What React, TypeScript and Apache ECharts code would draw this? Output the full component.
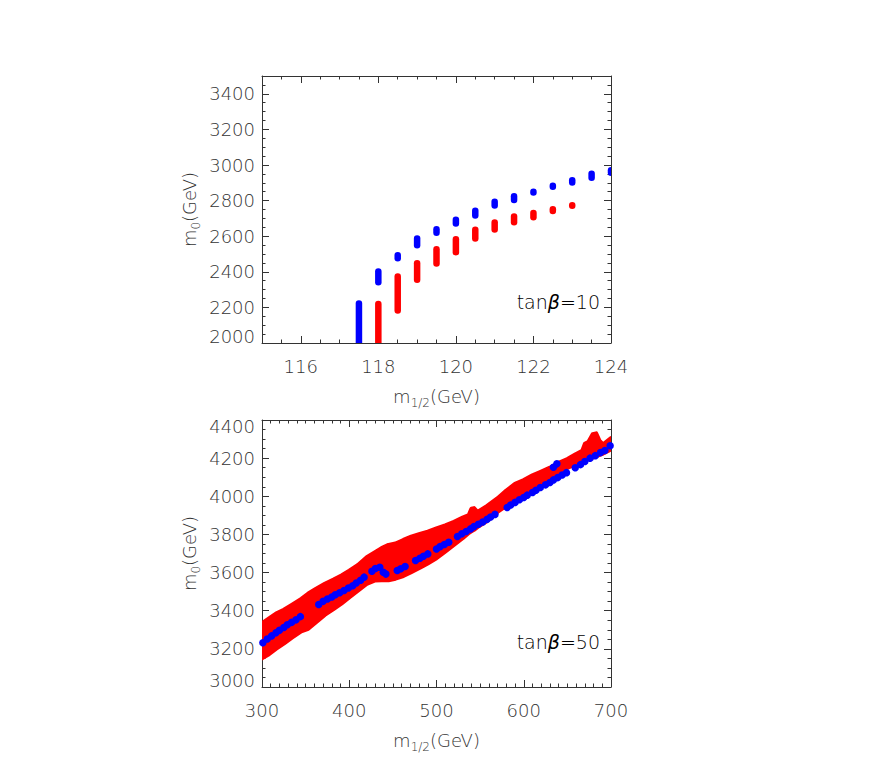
import React, { useEffect, useRef } from 'react';
import * as echarts from 'echarts';

// ---------- tick labels ----------
const topXTicks = [116, 118, 120, 122, 124];
const topYTicks = [2000, 2200, 2400, 2600, 2800, 3000, 3200, 3400];
const botXTicks = [300, 400, 500, 600, 700];
const botYTicks = [3000, 3200, 3400, 3600, 3800, 4000, 4200, 4400];

// ---------- top panel (tan beta = 10): vertical stacks of points, m1/2 -> [m0 low, m0 high] ----------
const topBlueM12 = [117.5, 118, 118.5, 119, 119.5, 120, 120.5, 121, 121.5, 122, 122.5, 123, 123.5, 124];
const topBlueLow = [1990, 2341, 2476, 2549, 2619, 2671, 2716, 2772, 2803, 2846, 2878, 2901, 2929, 2957];
const topBlueHigh = [2222, 2401, 2493, 2587, 2639, 2692, 2743, 2793, 2824, 2846, 2884, 2914, 2951, 2970];

const topRedM12 = [118, 118.5, 119, 119.5, 120, 120.5, 121, 121.5, 122, 122.5, 123];
const topRedLow = [1990, 2183, 2356, 2446, 2510, 2587, 2638, 2679, 2707, 2741, 2771];
const topRedHigh = [2219, 2373, 2448, 2527, 2583, 2636, 2677, 2711, 2730, 2752, 2771];

// ---------- bottom panel (tan beta = 50) ----------
// red band of points: m1/2 -> lower / upper edge of m0
const bandM12 = [300, 308, 316, 325, 334, 345, 353, 362, 372, 382, 391, 400, 410, 420, 429, 437, 445, 453, 462, 471, 481, 490, 500, 510, 520, 530, 537, 540, 543, 547, 558, 570, 580, 590, 600, 610, 620, 630, 640, 650, 660, 667, 670, 674, 679, 683, 687, 691, 700];
const bandLow = [3150, 3172, 3200, 3228, 3258, 3292, 3305, 3340, 3378, 3408, 3437, 3470, 3505, 3540, 3558, 3560, 3560, 3568, 3582, 3602, 3625, 3648, 3675, 3710, 3745, 3780, 3808, 3816, 3824, 3838, 3870, 3918, 3950, 3990, 4010, 4035, 4065, 4100, 4125, 4148, 4170, 4183, 4188, 4195, 4203, 4210, 4217, 4224, 4245];
const bandHigh = [3335, 3360, 3385, 3405, 3430, 3462, 3490, 3515, 3541, 3563, 3585, 3610, 3640, 3680, 3705, 3728, 3745, 3752, 3771, 3788, 3803, 3815, 3832, 3848, 3866, 3888, 3902, 3935, 3938, 3918, 3950, 3990, 4030, 4065, 4085, 4110, 4130, 4150, 4175, 4195, 4222, 4238, 4275, 4285, 4325, 4330, 4290, 4272, 4305];

// blue points
const blueM12 = [301, 306, 311, 316, 320, 325, 329, 334, 339, 344, 365, 370, 375, 380, 384, 389, 394, 399, 404, 408, 413, 417, 426, 430, 435, 439, 442, 455, 459, 464, 476, 481, 485, 490, 500, 504, 509, 514, 524, 529, 534, 539, 543, 548, 553, 558, 562, 567, 581, 585, 590, 595, 600, 604, 610, 614, 619, 625, 630, 634, 639, 644, 649, 634, 638, 659, 665, 670, 676, 682, 688, 693, 699];
const blueM0 = [3232, 3252, 3268, 3284, 3298, 3312, 3326, 3339, 3352, 3369, 3433, 3449, 3461, 3472, 3484, 3494, 3506, 3519, 3531, 3545, 3560, 3576, 3607, 3621, 3628, 3602, 3592, 3611, 3620, 3632, 3663, 3675, 3686, 3698, 3724, 3736, 3747, 3759, 3789, 3803, 3815, 3829, 3841, 3853, 3865, 3879, 3891, 3905, 3941, 3954, 3968, 3982, 3994, 4006, 4020, 4032, 4046, 4060, 4072, 4086, 4098, 4112, 4124, 4152, 4170, 4150, 4166, 4182, 4200, 4213, 4229, 4240, 4265];

const INK = '#333333';
const FONT = 'DejaVu Sans';
const RED = '#ff0000';
const BLUE = '#0000ff';

const baseText = { fontFamily: FONT, fontWeight: 200 as any, color: INK };

function nameRich() {
  return {
    m: { ...baseText, fontSize: 18, lineHeight: 26 },
    s: { ...baseText, fontSize: 12, lineHeight: 12, verticalAlign: 'bottom' },
  };
}

function boxAxes(
  dim: 'x' | 'y',
  grid: number,
  min: number,
  max: number,
  majors: number[],
  minorStep: number,
  name: string,
  nameGap: number,
  lowShift: number[],
  highShift: number[]
) {
  const posA = dim === 'x' ? 'bottom' : 'left';
  const posB = dim === 'x' ? 'top' : 'right';
  const base = { type: 'value', gridIndex: grid, min, max, splitLine: { show: false } };
  const labelOpts = {
    show: true,
    customValues: majors,
    margin: dim === 'x' ? 14 : 7,
    ...baseText,
    fontSize: 18,
    formatter: (v: number) => {
      if (lowShift.indexOf(v) >= 0) return '{lo|' + v + '}';
      if (highShift.indexOf(v) >= 0) return '{hi|' + v + '}';
      return String(v);
    },
    rich: {
      lo: { ...baseText, fontSize: 18, padding: [0, 0, 13, 0] },
      hi: { ...baseText, fontSize: 18, padding: [13, 0, 0, 0] },
    },
  };
  const major = (position: string, withLabel: boolean) => ({
    ...base,
    position,
    axisLine: { show: true, onZero: false, lineStyle: { color: INK, width: 1 } },
    axisTick: { show: true, inside: true, length: 7, customValues: majors, lineStyle: { color: INK, width: 1 } },
    axisLabel: withLabel ? labelOpts : { show: false },
    ...(withLabel
      ? {
          name,
          nameLocation: 'middle',
          nameGap,
          nameTextStyle: { ...baseText, fontSize: 18, rich: nameRich() },
        }
      : {}),
  });
  const minor = (position: string) => ({
    ...base,
    position,
    interval: minorStep,
    axisLine: { show: false, onZero: false },
    axisTick: { show: true, inside: true, length: 3.5, lineStyle: { color: INK, width: 1 } },
    axisLabel: { show: false },
  });
  return [major(posA, true), minor(posA), major(posB, false), minor(posB)];
}

function columnSeries(name: string, xs: number[], lo: number[], hi: number[], color: string) {
  return {
    type: 'custom',
    name,
    xAxisIndex: 0,
    yAxisIndex: 0,
    clip: true,
    encode: { x: 0, y: [1, 2] },
    data: xs.map((x, i) => [x, lo[i], hi[i]]),
    renderItem: (params: any, api: any) => {
      const p1 = api.coord([api.value(0), api.value(1)]);
      const p2 = api.coord([api.value(0), api.value(2)]);
      const y2 = Math.abs(p2[1] - p1[1]) < 0.5 ? p2[1] - 0.6 : p2[1];
      return {
        type: 'line',
        shape: { x1: p1[0], y1: p1[1], x2: p2[0], y2 },
        style: { stroke: color, lineWidth: 6.5, lineCap: 'round' },
      };
    },
  };
}

function tanBeta(value: string, y: number) {
  return {
    type: 'text',
    x: 600,
    y,
    style: {
      text: '{r|tan}{b|β}{r|=' + value + '}',
      align: 'right',
      verticalAlign: 'middle',
      rich: {
        r: { ...baseText, fontSize: 19 },
        b: { fontFamily: FONT, fontSize: 19, fontWeight: 'normal', fontStyle: 'italic', color: INK },
      },
    },
  };
}

export default function App() {
  const ref = useRef<HTMLDivElement>(null);
  useEffect(() => {
    if (!ref.current) return;
    const chart = echarts.init(ref.current, null, { renderer: 'svg' });
    const xName = '{m|m}{s|1/2}{m|(GeV)}';
    const yName = '{m|m}{s|0}{m|(GeV)}';
    const option: any = {
      animation: false,
      backgroundColor: '#ffffff',
      grid: [
        { left: 262, top: 76, width: 349, height: 267 },
        { left: 262, top: 420, width: 349, height: 267 },
      ],
      xAxis: [
        ...boxAxes('x', 0, 115, 124, topXTicks, 0.5, xName, 40, [], []),
        ...boxAxes('x', 1, 300, 700, botXTicks, 10, xName, 40, [], []),
      ],
      yAxis: [
        ...boxAxes('y', 0, 2000, 3500, topYTicks, 50, yName, 60, [2000], []),
        ...boxAxes('y', 1, 3000, 4400, botYTicks, 50, yName, 60, [3000], [4400]),
      ],
      series: [
        columnSeries('tanβ=10 red', topRedM12, topRedLow, topRedHigh, RED),
        columnSeries('tanβ=10 blue', topBlueM12, topBlueLow, topBlueHigh, BLUE),
        {
          type: 'custom',
          name: 'tanβ=50 red',
          xAxisIndex: 4,
          yAxisIndex: 4,
          clip: true,
          data: [[bandM12[0], bandLow[0]]],
          renderItem: (params: any, api: any) => {
            const pts: number[][] = [];
            for (let i = 0; i < bandM12.length; i++) pts.push(api.coord([bandM12[i], bandHigh[i]]));
            for (let i = bandM12.length - 1; i >= 0; i--) pts.push(api.coord([bandM12[i], bandLow[i]]));
            return {
              type: 'polygon',
              shape: { points: pts },
              style: { fill: RED, stroke: RED, lineWidth: 4, lineJoin: 'round' },
            };
          },
        },
        {
          type: 'scatter',
          name: 'tanβ=50 blue',
          xAxisIndex: 4,
          yAxisIndex: 4,
          clip: true,
          symbol: 'circle',
          symbolSize: 7.5,
          itemStyle: { color: BLUE, opacity: 1 },
          data: blueM12.map((x, i) => [x, blueM0[i]]),
        },
      ],
      graphic: [tanBeta('10', 302), tanBeta('50', 642)],
    };
    chart.setOption(option);
    return () => chart.dispose();
  }, []);
  return (
    <div
      ref={ref}
      style={{ position: 'fixed', left: 0, top: 0, width: 872, height: 763, background: '#ffffff' }}
    />
  );
}
